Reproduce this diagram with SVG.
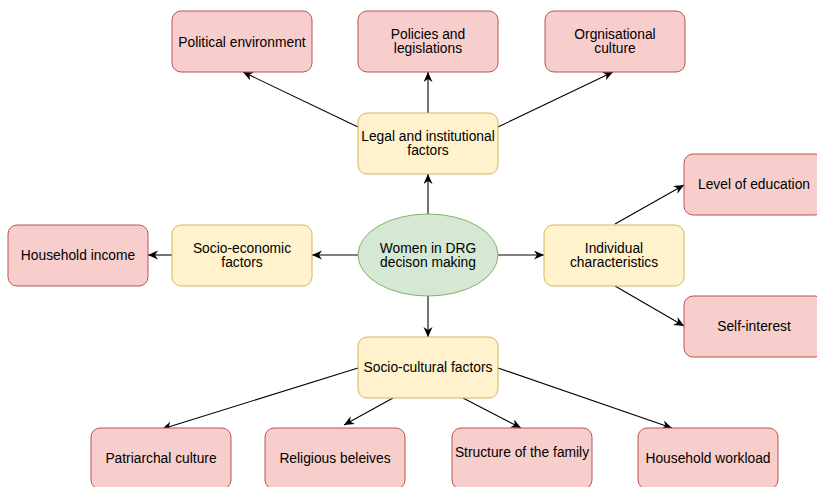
<svg xmlns="http://www.w3.org/2000/svg" width="817" height="487" viewBox="0 0 817 487">
<style>
.red{fill:#f8cecc;stroke:#b85450;stroke-width:1}
.yel{fill:#fff2cc;stroke:#d6b656;stroke-width:1}
.grn{fill:#d5e8d4;stroke:#82b366;stroke-width:1}
text{font-family:"Liberation Sans",Arial,Helvetica,sans-serif;font-size:13.8px;fill:#000;text-anchor:middle}
.c line{stroke:#000;stroke-width:1.1;marker-end:url(#ah)}
</style>
<defs>
<marker id="ah" markerUnits="userSpaceOnUse" markerWidth="11" markerHeight="10" refX="10" refY="4.5" orient="auto">
<path d="M0,0 L10,4.5 L0,9 L3,4.5 z" fill="#000"/>
</marker>
</defs>
<rect width="817" height="487" fill="#fff"/>
<g class="c" id="connectors">
<line x1="358" y1="127" x2="243" y2="72"/>
<line x1="428" y1="113" x2="428" y2="72"/>
<line x1="498" y1="127" x2="613" y2="72"/>
<line x1="428" y1="214" x2="428" y2="174"/>
<line x1="358" y1="255" x2="312" y2="255"/>
<line x1="172" y1="255" x2="148" y2="255"/>
<line x1="498" y1="255" x2="544" y2="255"/>
<line x1="615" y1="224" x2="684" y2="185"/>
<line x1="615" y1="286" x2="684" y2="326"/>
<line x1="428" y1="296" x2="428" y2="337"/>
<line x1="358" y1="368" x2="162" y2="429"/>
<line x1="393" y1="398" x2="344" y2="425"/>
<line x1="463" y1="398" x2="521" y2="428"/>
<line x1="498" y1="368" x2="672" y2="428"/>
</g>
<g id="political"><rect class="red" x="172" y="11" width="140" height="61" rx="9"/><text x="242" y="46.5">Political environment</text></g>
<g id="policies"><rect class="red" x="358" y="11" width="140" height="61" rx="9"/><text x="428" y="39">Policies and</text><text x="428" y="53">legislations</text></g>
<g id="orgculture"><rect class="red" x="545" y="11" width="140" height="61" rx="9"/><text x="615" y="39">Orgnisational</text><text x="615" y="53">culture</text></g>
<g id="legal"><rect class="yel" x="358" y="113" width="140" height="61" rx="9"/><text x="428" y="141">Legal and institutional</text><text x="428" y="155">factors</text></g>
<g id="women"><ellipse class="grn" cx="428" cy="255" rx="70" ry="41"/><text x="428" y="253">Women in DRG</text><text x="428" y="267">decison making</text></g>
<g id="socioeco"><rect class="yel" x="172" y="225" width="140" height="61" rx="9"/><text x="242" y="253">Socio-economic</text><text x="242" y="267">factors</text></g>
<g id="income"><rect class="red" x="8" y="225" width="140" height="61" rx="9"/><text x="78" y="260">Household income</text></g>
<g id="individual"><rect class="yel" x="544" y="225" width="140" height="61" rx="9"/><text x="614" y="253">Individual</text><text x="614" y="267">characteristics</text></g>
<g id="education"><rect class="red" x="684" y="154" width="140" height="61" rx="9"/><text x="754" y="189">Level of education</text></g>
<g id="selfinterest"><rect class="red" x="684" y="296" width="140" height="61" rx="9"/><text x="754" y="331">Self-interest</text></g>
<g id="sociocult"><rect class="yel" x="358" y="337" width="140" height="61" rx="9"/><text x="428" y="372">Socio-cultural factors</text></g>
<g id="patriarchal"><rect class="red" x="91" y="428" width="140" height="61" rx="9"/><text x="161" y="463">Patriarchal culture</text></g>
<g id="religious"><rect class="red" x="265" y="428" width="140" height="61" rx="9"/><text x="335" y="463">Religious beleives</text></g>
<g id="family"><rect class="red" x="452" y="428" width="140" height="61" rx="9"/><text x="522" y="457">Structure of the family</text></g>
<g id="workload"><rect class="red" x="638" y="428" width="140" height="61" rx="9"/><text x="708" y="463">Household workload</text></g>
</svg>
